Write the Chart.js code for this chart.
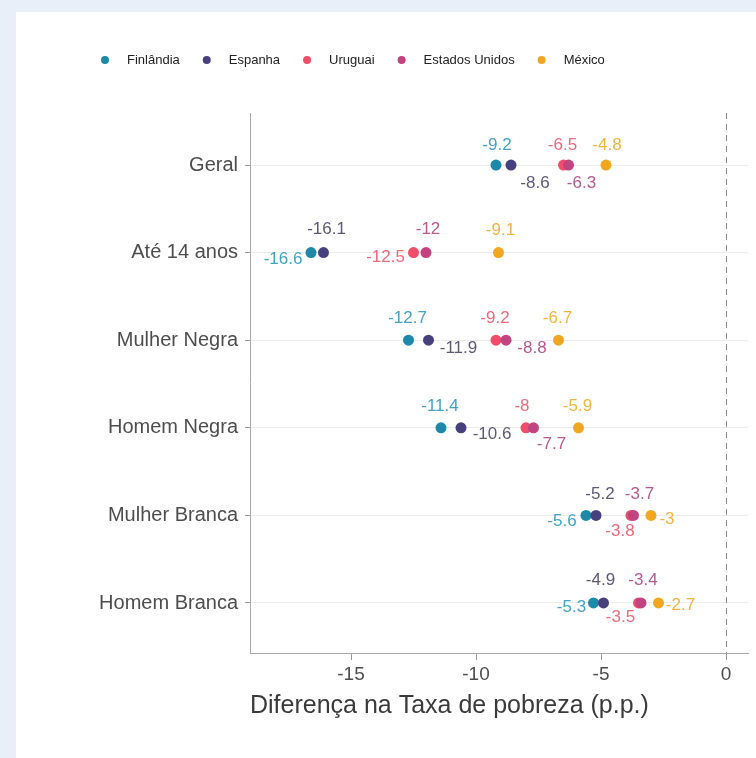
<!DOCTYPE html>
<html>
<head>
<meta charset="utf-8">
<script src="https://cdn.jsdelivr.net/npm/chart.js@4.4.1/dist/chart.umd.min.js"></script>
<style>
    html, body { margin: 0; padding: 0; background: #e8eff8; }
    body { width: 756px; height: 758px; overflow: hidden; position: relative; }
    #panel { position: absolute; left: 16px; top: 12px; width: 740px; height: 746px; background: #fff; }
    canvas { display: block; }
</style>
</head>
<body>
<div id="panel"><canvas id="povertyChart" width="740" height="746"></canvas></div>
<script>
const categories = ['Geral', 'Até 14 anos', 'Mulher Negra', 'Homem Negra', 'Mulher Branca', 'Homem Branca'];
const seriesNames = ['Finlândia', 'Espanha', 'Uruguai', 'Estados Unidos', 'México'];
const finlandia = [-9.2, -16.6, -12.7, -11.4, -5.6, -5.3];
const espanha = [-8.6, -16.1, -11.9, -10.6, -5.2, -4.9];
const uruguai = [-6.5, -12.5, -9.2, -8, -3.8, -3.5];
const estadosUnidos = [-6.3, -12, -8.8, -7.7, -3.7, -3.4];
const mexico = [-4.8, -9.1, -6.7, -5.9, -3, -2.7];
const xTicks = [-15, -10, -5, 0];
const xTitle = 'Diferença na Taxa de pobreza (p.p.)';

const seriesValues = [finlandia, espanha, uruguai, estadosUnidos, mexico];
const seriesColors = ['#1d88a8', '#47407c', '#ef4d6a', '#c1437f', '#f0a71f'];
const labelColors = ['#42a3c6', '#5e5873', '#ec6a7c', '#b45a91', '#f1b441'];

// where each value label sits relative to its dot (px), per series / per category
const labelOffsets = [
    [[1, -20], [-28, 7], [-1, -22], [-1, -21], [-24, 6], [-22, 4]],
    [[24, 18], [3, -23], [30, 8], [31, 7], [4, -21], [-3, -23]],
    [[-1, -20], [-28, 5], [-1, -22], [-4, -21], [-11, 16], [-18, 14]],
    [[13, 18], [2, -23], [26, 8], [18, 17], [6, -21], [2, -23]],
    [[1, -20], [2, -22], [-1, -22], [-1, -21], [16, 4], [22, 2]]
];

const FONT = '"Liberation Sans", Arial, sans-serif';

const zeroLine = {
    id: 'zeroLine',
    beforeDatasetsDraw(chart) {
        const { ctx, chartArea, scales } = chart;
        const x = Math.round(scales.x.getPixelForValue(0)) + 0.5;
        ctx.save();
        ctx.strokeStyle = '#8a8a8a';
        ctx.lineWidth = 1;
        ctx.setLineDash([6, 5]);
        ctx.beginPath();
        ctx.moveTo(x, chartArea.top);
        ctx.lineTo(x, chartArea.bottom);
        ctx.stroke();
        ctx.restore();
    }
};

const valueLabels = {
    id: 'valueLabels',
    afterDatasetsDraw(chart) {
        const ctx = chart.ctx;
        ctx.save();
        ctx.font = '17px ' + FONT;
        ctx.textAlign = 'center';
        ctx.textBaseline = 'middle';
        chart.data.datasets.forEach((ds, i) => {
            const meta = chart.getDatasetMeta(i);
            ctx.fillStyle = labelColors[i];
            meta.data.forEach((pt, j) => {
                const [dx, dy] = labelOffsets[i][j];
                ctx.fillText(String(seriesValues[i][j]), pt.x + dx, pt.y + dy);
            });
        });
        ctx.restore();
    }
};

const dotLegend = {
    id: 'dotLegend',
    afterDraw(chart) {
        const ctx = chart.ctx;
        ctx.save();
        ctx.font = '13px ' + FONT;
        ctx.textBaseline = 'middle';
        ctx.textAlign = 'left';
        let x = 89;
        const y = 48;
        chart.data.datasets.forEach(ds => {
            ctx.fillStyle = ds.backgroundColor;
            ctx.beginPath();
            ctx.arc(x, y, 4, 0, Math.PI * 2);
            ctx.fill();
            ctx.fillStyle = '#222';
            ctx.fillText(ds.label, x + 22, y);
            x += 22 + ctx.measureText(ds.label).width + 27;
        });
        ctx.restore();
    }
};

// later series sit on top of earlier ones, like the original
const datasets = seriesNames.map((name, i) => ({
    label: name,
    data: seriesValues[i].map((v, j) => ({ x: v, y: j + 1 })),
    backgroundColor: seriesColors[i],
    borderColor: seriesColors[i],
    pointRadius: 5.5,
    pointHoverRadius: 5.5,
    borderWidth: 0,
    order: seriesNames.length - 1 - i
}));

new Chart(document.getElementById('povertyChart'), {
    type: 'scatter',
    data: { datasets },
    options: {
        responsive: false,
        animation: false,
        devicePixelRatio: 1,
        layout: { padding: { top: 101, right: 8, left: 0, bottom: 0 } },
        plugins: {
            legend: { display: false },
            tooltip: { enabled: false }
        },
        scales: {
            x: {
                type: 'linear',
                min: -19.04,
                max: 0.88,
                afterBuildTicks: scale => { scale.ticks = xTicks.map(v => ({ value: v })); },
                afterFit: scale => { scale.height = 105; },
                grid: { drawOnChartArea: false, tickLength: 7, tickColor: '#9a9a9a' },
                border: { display: true, color: '#a8a8a8' },
                ticks: { color: '#4d4d4d', font: { family: FONT, size: 19 }, padding: 3 },
                title: {
                    display: true,
                    text: xTitle,
                    align: 'start',
                    color: '#3a3a3a',
                    font: { family: FONT, size: 25 },
                    padding: { top: 0, bottom: 37 }
                }
            },
            y: {
                type: 'linear',
                reverse: true,
                min: 0.406,
                max: 6.571,
                afterBuildTicks: scale => { scale.ticks = categories.map((c, i) => ({ value: i + 1 })); },
                afterFit: scale => { scale.width = 234; },
                grid: { color: '#ececec', tickLength: 5, tickColor: '#9a9a9a' },
                border: { display: true, color: '#a8a8a8' },
                ticks: {
                    color: '#4d4d4d',
                    font: { family: FONT, size: 20 },
                    padding: 7,
                    callback: v => categories[v - 1]
                }
            }
        }
    },
    plugins: [zeroLine, valueLabels, dotLegend]
});
</script>
</body>
</html>
